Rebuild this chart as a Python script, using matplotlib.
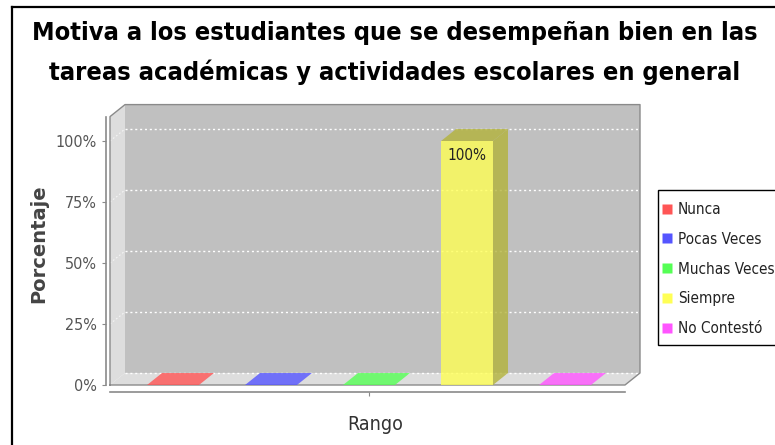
import matplotlib
matplotlib.use("Agg")
import matplotlib.pyplot as plt
from matplotlib import font_manager as fm
from matplotlib.patches import Rectangle, Polygon
from matplotlib.lines import Line2D

# data
titulo = ["Motiva a los estudiantes que se desempeñan bien en las",
          "tareas académicas y actividades escolares en general"]
categorias = ["Nunca", "Pocas Veces", "Muchas Veces", "Siempre", "No Contestó"]
porcentajes = [0, 0, 0, 100, 0]
colores = ["#ff5555", "#5555ff", "#55ff55", "#ffff55", "#ff55ff"]
yticks = [0, 25, 50, 75, 100]

# fonts: narrow faces if the machine has them
_have = {(f.name, f.stretch) for f in fm.fontManager.ttflist}
COND = "condensed" if ("DejaVu Sans", "condensed") in _have else "normal"
TITLE_FAM = "Liberation Sans Narrow" if any(n == "Liberation Sans Narrow" for n, _ in _have) else "DejaVu Sans"
TITLE_STRETCH = "normal" if TITLE_FAM != "DejaVu Sans" else COND

W, H = 775, 445
fig = plt.figure(figsize=(W / 100, H / 100), dpi=100)
fx = lambda px: px / W
fy = lambda py: 1 - py / H

# front plane of the 3D plot
L, R, T, B = 110, 625, 116.6, 385
ax = fig.add_axes([fx(L), fy(B), (R - L) / W, (B - T) / H])
xmin, xmax = -0.643, 4.612
ymax = 110
ax.set_xlim(xmin, xmax); ax.set_ylim(0, ymax)
ax.patch.set_visible(False)

# depth of the 3D effect, in data units
dx = 15 * (xmax - xmin) / (R - L)
dy = 12 * ymax / (B - T)

wall, floor_c, edge = "#c0c0c0", "#dddddd", "#8a8a8a"
ax.add_patch(Rectangle((xmin + dx, dy), xmax - xmin, ymax, fc=wall, ec="none", zorder=0, clip_on=False))
ax.add_patch(Polygon([(xmin, 0), (xmin, ymax), (xmin + dx, ymax + dy), (xmin + dx, dy)],
                     fc=floor_c, ec="none", zorder=0, clip_on=False))
ax.add_patch(Polygon([(xmin, 0), (xmax, 0), (xmax + dx, dy), (xmin + dx, dy)],
                     fc=floor_c, ec="none", zorder=0, clip_on=False))

# dotted grid on back wall and left wall
for t in [0] + yticks[1:]:
    ax.plot([xmin + dx, xmax + dx], [t + dy, t + dy], color="white", lw=1, ls=(0, (1.5, 2)),
            zorder=1, clip_on=False)
    if t:
        ax.plot([xmin, xmin + dx], [t, t + dy], color="white", lw=0.8, ls=(0, (1.5, 2)),
                alpha=0.7, zorder=1, clip_on=False)

# box outline
ax.plot([xmin, xmin, xmin + dx, xmax + dx, xmax + dx, xmax, xmin],
        [0, ymax, ymax + dy, ymax + dy, dy, 0, 0], color=edge, lw=1, zorder=1, clip_on=False)

# bars
bw = 0.53
for i, (v, c) in enumerate(zip(porcentajes, colores)):
    x0 = i - bw / 2
    rgb = matplotlib.colors.to_rgb(c)
    dark = tuple(ch * 0.7 for ch in rgb)
    if v > 0:
        ax.add_patch(Rectangle((x0, 0), bw, v, fc=c, alpha=0.8, ec="none", zorder=3))
        ax.add_patch(Polygon([(x0 + bw, 0), (x0 + bw + dx, dy), (x0 + bw + dx, v + dy), (x0 + bw, v)],
                             fc=dark, alpha=0.8, ec="none", zorder=3, clip_on=False))
        ax.add_patch(Polygon([(x0, v), (x0 + bw, v), (x0 + bw + dx, v + dy), (x0 + dx, v + dy)],
                             fc=dark, alpha=0.8, ec="none", zorder=3, clip_on=False))
        ax.annotate(f"{v:.0f}%", (i, v), xytext=(0, -14), textcoords="offset pixels",
                    ha="center", va="center", fontsize=11, fontstretch=COND, color="#222222", zorder=4)
    else:
        ax.add_patch(Polygon([(x0, 0), (x0 + bw, 0), (x0 + bw + dx, dy), (x0 + dx, dy)],
                             fc=c, alpha=0.8, ec="none", zorder=3, clip_on=False))

# axes
for s in ["top", "right"]:
    ax.spines[s].set_visible(False)
ax.spines["left"].set_position(("outward", 3))
ax.spines["bottom"].set_position(("outward", 5))
for s in ["left", "bottom"]:
    ax.spines[s].set_color(edge); ax.spines[s].set_linewidth(1.2)
ax.set_yticks(yticks)
ax.set_yticklabels([f"{t}%" for t in yticks])
ax.set_xticks([2]); ax.set_xticklabels([""])
ax.tick_params(axis="both", colors=edge, length=3, labelcolor="#555555", labelsize=11.5)
for lab in ax.get_yticklabels():
    lab.set_fontstretch(COND)

fig.text(fx(375), fy(425), "Rango", ha="center", va="center", fontsize=14,
         fontstretch=COND, color="#333333")
fig.text(fx(39), fy(244), "Porcentaje", ha="center", va="center", rotation=90,
         fontsize=14, fontweight="bold", color="#444444")

# title, shrunk so the first line spans ~725 px
t1 = fig.text(fx(395), fy(40), titulo[0], ha="center", va="baseline", fontsize=21,
              fontweight="bold", family=TITLE_FAM, fontstretch=TITLE_STRETCH)
t2 = fig.text(fx(395), fy(80), titulo[1], ha="center", va="baseline", fontsize=21,
              fontweight="bold", family=TITLE_FAM, fontstretch=TITLE_STRETCH)
rend = fig.canvas.get_renderer()
w1 = t1.get_window_extent(rend).width
size = min(21, 21 * 725 / w1)
t1.set_fontsize(size); t2.set_fontsize(size)

# legend: frame drawn separately so the rows sit where they should
fig.add_artist(Rectangle((fx(658), fy(345)), fx(140), (345 - 190) / H, transform=fig.transFigure,
                         fc="white", ec="black", lw=1, zorder=5))
handles = [Line2D([], [], ls="none", marker="s", markersize=6.5, markerfacecolor=c,
                  markeredgecolor="none") for c in colores]
leg = fig.legend(handles, categorias, loc="upper left", bbox_to_anchor=(fx(662), fy(202)),
                 borderaxespad=0, frameon=False, prop={"size": 11, "stretch": COND},
                 handlelength=0.6, labelspacing=0.97,
                 handletextpad=0.45, borderpad=0)
leg.set_zorder(6)
for txt in leg.get_texts():
    txt.set_color("#222222")

# chart border (top and left edges visible)
fig.add_artist(Line2D([fx(12), fx(12)], [fy(7), 0], color="black", lw=1.6))
fig.add_artist(Line2D([fx(12), 1], [fy(7), fy(7)], color="black", lw=1.6))

fig.savefig("out.png", dpi=100)
